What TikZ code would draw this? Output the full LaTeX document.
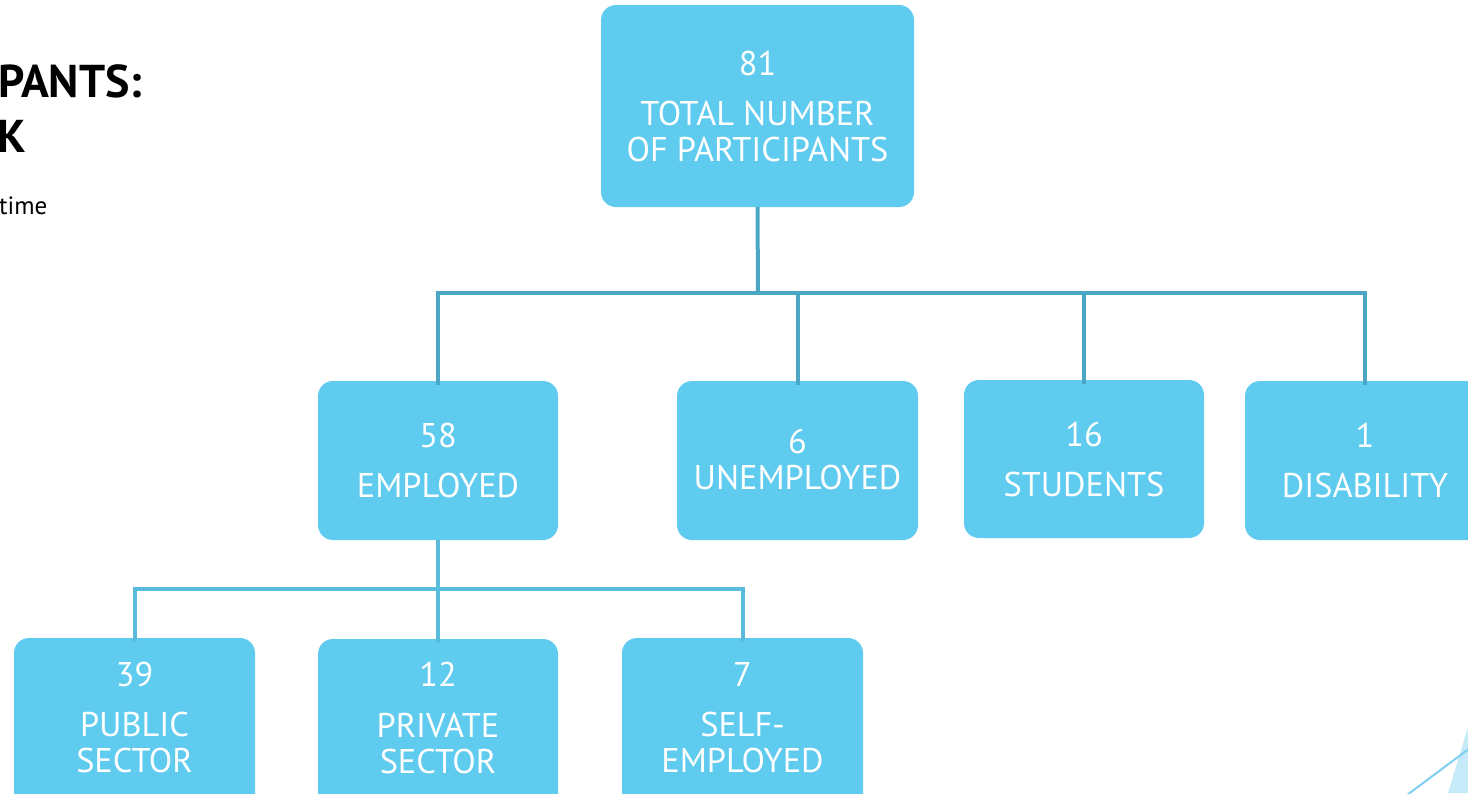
\documentclass[tikz,border=0pt]{standalone}
\usepackage{fontspec}
\setmainfont{PT Sans}
\definecolor{boxfill}{HTML}{5ECBEF}
\definecolor{linetop}{HTML}{4BA6C4}
\definecolor{linelow}{HTML}{59BCDC}
\definecolor{decolight}{HTML}{C6EBF8}
\definecolor{decoline}{HTML}{7FD0F0}
\tikzset{
  orgbox/.style={draw=none, fill=boxfill, rounded corners=15pt, inner sep=0pt},
  boxtxt/.style={anchor=base, text=white, inner sep=0pt, font=\fontsize{34.3}{36}\selectfont},
  toplink/.style={draw=linetop, line width=4pt},
  lowlink/.style={draw=linelow, line width=4pt},
}
\begin{document}
\begin{tikzpicture}[x=1pt,y=-1pt]
\useasboundingbox (0,0) rectangle (1468,793);
\clip (0,0) rectangle (1468,793);
% title fragments
\node[anchor=base west, inner sep=0pt, font=\fontsize{46}{50}\bfseries\selectfont] (t1) at (-2,97) {PANTS:};
\node[anchor=base west, inner sep=0pt, font=\fontsize{46}{50}\bfseries\selectfont] (t2) at (-3,152) {K};
\node[anchor=base west, inner sep=0pt, font=\fontsize{25}{28}\selectfont] (t3) at (-1,214) {time};
% decoration
\fill[decolight] (1448,793) -- (1468,727) -- (1468,793) -- cycle;
\draw[decoline, line width=2pt] (1407,795) -- (1470,748);
% boxes
\node[orgbox, minimum width=313pt, minimum height=202pt] (total) at (757.5,106) {};
\node[orgbox, minimum width=240pt, minimum height=159pt] (emp) at (438,460.5) {};
\node[orgbox, minimum width=241pt, minimum height=159pt] (unemp) at (797.5,460.5) {};
\node[orgbox, minimum width=240pt, minimum height=158pt] (stud) at (1084,459) {};
\node[orgbox, minimum width=240pt, minimum height=159pt] (dis) at (1365,460.5) {};
\node[orgbox, minimum width=241pt, minimum height=180pt] (pub) at (134.5,728) {};
\node[orgbox, minimum width=240pt, minimum height=180pt] (priv) at (438,729) {};
\node[orgbox, minimum width=241pt, minimum height=180pt] (self) at (742.5,728) {};
% texts
\node[boxtxt] (total1) at (757.5,75) {81};
\node[boxtxt] (total2) at (757.5,125) {TOTAL NUMBER};
\node[boxtxt] (total3) at (757.5,161) {OF PARTICIPANTS};
\node[boxtxt] (emp1) at (438,447) {58};
\node[boxtxt] (emp2) at (438,497) {EMPLOYED};
\node[boxtxt] (unemp1) at (797.5,453) {6};
\node[boxtxt] (unemp2) at (797.5,489) {UNEMPLOYED};
\node[boxtxt] (stud1) at (1084,446) {16};
\node[boxtxt] (stud2) at (1084,496) {STUDENTS};
\node[boxtxt] (dis1) at (1365,447) {1};
\node[boxtxt] (dis2) at (1365,497) {DISABILITY};
\node[boxtxt] (pub1) at (134.5,686) {39};
\node[boxtxt] (pub2) at (134.5,736) {PUBLIC};
\node[boxtxt] (pub3) at (134.5,772) {SECTOR};
\node[boxtxt] (priv1) at (438,686) {12};
\node[boxtxt] (priv2) at (438,737) {PRIVATE};
\node[boxtxt] (priv3) at (438,773) {SECTOR};
\node[boxtxt] (self1) at (742.5,686) {7};
\node[boxtxt] (self2) at (742.5,736) {SELF-};
\node[boxtxt] (self3) at (742.5,772) {EMPLOYED};
% connectors
\coordinate (bus1) at (758,293);
\draw[toplink] (total.south) -- (bus1);
\draw[toplink] ([yshift=-4pt]emp.north) |- (bus1);
\draw[toplink] ([yshift=-4pt]unemp.north) |- (bus1);
\draw[toplink] ([yshift=-4pt]stud.north) |- (bus1);
\draw[toplink] ([yshift=-4pt]dis.north) |- (bus1);
\coordinate (bus2) at (438,589);
\draw[lowlink] (emp.south) -- ([yshift=-4pt]priv.north);
\draw[lowlink] ([yshift=-4pt]pub.north) |- (bus2);
\draw[lowlink] ([yshift=-4pt]self.north) |- (bus2);
\end{tikzpicture}
\end{document}
